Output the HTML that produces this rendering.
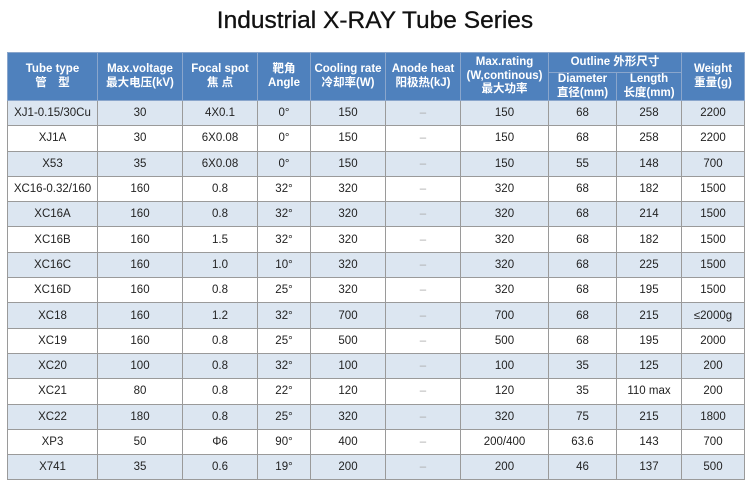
<!DOCTYPE html><html><head><meta charset="utf-8"><style>
body{margin:0;width:750px;height:491px;background:#fff;overflow:hidden;font-family:"Liberation Sans","Noto Sans CJK SC",sans-serif}
h1{position:absolute;top:7px;left:0;width:750px;margin:0;text-align:center;font-weight:normal;font-size:24.5px;color:#111;font-family:"Liberation Sans",sans-serif;-webkit-text-stroke:0.3px #111}
table{position:absolute;left:7px;top:52px;border-collapse:collapse;table-layout:fixed;width:737px}
td,th{border:1px solid #9a9a9a;text-align:center;font-size:11.5px;color:#222;padding:0;height:24.3px}
th{background:#4f81bd;color:#fff;font-size:11.5px;font-weight:bold;line-height:13.5px;border-color:#8aa6cc}
th.s{height:21px}
tr.l td{background:#dce6f1}
.d{color:#aaa}
</style></head><body>
<h1>Industrial X-RAY Tube Series</h1>
<table>
<colgroup><col style="width:90px"><col style="width:85px"><col style="width:75px"><col style="width:53px"><col style="width:75px"><col style="width:75px"><col style="width:88px"><col style="width:68px"><col style="width:65px"><col style="width:63px"></colgroup>
<tr><th rowspan="2">Tube type<br>管　型</th><th rowspan="2">Max.voltage<br>最大电压(kV)</th><th rowspan="2">Focal spot<br>焦 点</th><th rowspan="2">靶角<br>Angle</th><th rowspan="2">Cooling rate<br>冷却率(W)</th><th rowspan="2">Anode heat<br>阳极热(kJ)</th><th rowspan="2">Max.rating<br>(W,continous)<br>最大功率</th><th colspan="2" style="height:19px">Outline 外形尺寸</th><th rowspan="2">Weight<br>重量(g)</th></tr>
<tr><th class="s">Diameter<br>直径(mm)</th><th class="s">Length<br>长度(mm)</th></tr>
<tr class="l"><td>XJ1-0.15/30Cu</td><td>30</td><td>4X0.1</td><td>0°</td><td>150</td><td class="d">–</td><td>150</td><td>68</td><td>258</td><td>2200</td></tr>
<tr><td>XJ1A</td><td>30</td><td>6X0.08</td><td>0°</td><td>150</td><td class="d">–</td><td>150</td><td>68</td><td>258</td><td>2200</td></tr>
<tr class="l"><td>X53</td><td>35</td><td>6X0.08</td><td>0°</td><td>150</td><td class="d">–</td><td>150</td><td>55</td><td>148</td><td>700</td></tr>
<tr><td>XC16-0.32/160</td><td>160</td><td>0.8</td><td>32°</td><td>320</td><td class="d">–</td><td>320</td><td>68</td><td>182</td><td>1500</td></tr>
<tr class="l"><td>XC16A</td><td>160</td><td>0.8</td><td>32°</td><td>320</td><td class="d">–</td><td>320</td><td>68</td><td>214</td><td>1500</td></tr>
<tr><td>XC16B</td><td>160</td><td>1.5</td><td>32°</td><td>320</td><td class="d">–</td><td>320</td><td>68</td><td>182</td><td>1500</td></tr>
<tr class="l"><td>XC16C</td><td>160</td><td>1.0</td><td>10°</td><td>320</td><td class="d">–</td><td>320</td><td>68</td><td>225</td><td>1500</td></tr>
<tr><td>XC16D</td><td>160</td><td>0.8</td><td>25°</td><td>320</td><td class="d">–</td><td>320</td><td>68</td><td>195</td><td>1500</td></tr>
<tr class="l"><td>XC18</td><td>160</td><td>1.2</td><td>32°</td><td>700</td><td class="d">–</td><td>700</td><td>68</td><td>215</td><td>≤2000g</td></tr>
<tr><td>XC19</td><td>160</td><td>0.8</td><td>25°</td><td>500</td><td class="d">–</td><td>500</td><td>68</td><td>195</td><td>2000</td></tr>
<tr class="l"><td>XC20</td><td>100</td><td>0.8</td><td>32°</td><td>100</td><td class="d">–</td><td>100</td><td>35</td><td>125</td><td>200</td></tr>
<tr><td>XC21</td><td>80</td><td>0.8</td><td>22°</td><td>120</td><td class="d">–</td><td>120</td><td>35</td><td>110 max</td><td>200</td></tr>
<tr class="l"><td>XC22</td><td>180</td><td>0.8</td><td>25°</td><td>320</td><td class="d">–</td><td>320</td><td>75</td><td>215</td><td>1800</td></tr>
<tr><td>XP3</td><td>50</td><td>Φ6</td><td>90°</td><td>400</td><td class="d">–</td><td>200/400</td><td>63.6</td><td>143</td><td>700</td></tr>
<tr class="l"><td>X741</td><td>35</td><td>0.6</td><td>19°</td><td>200</td><td class="d">–</td><td>200</td><td>46</td><td>137</td><td>500</td></tr>
</table>
</body></html>
